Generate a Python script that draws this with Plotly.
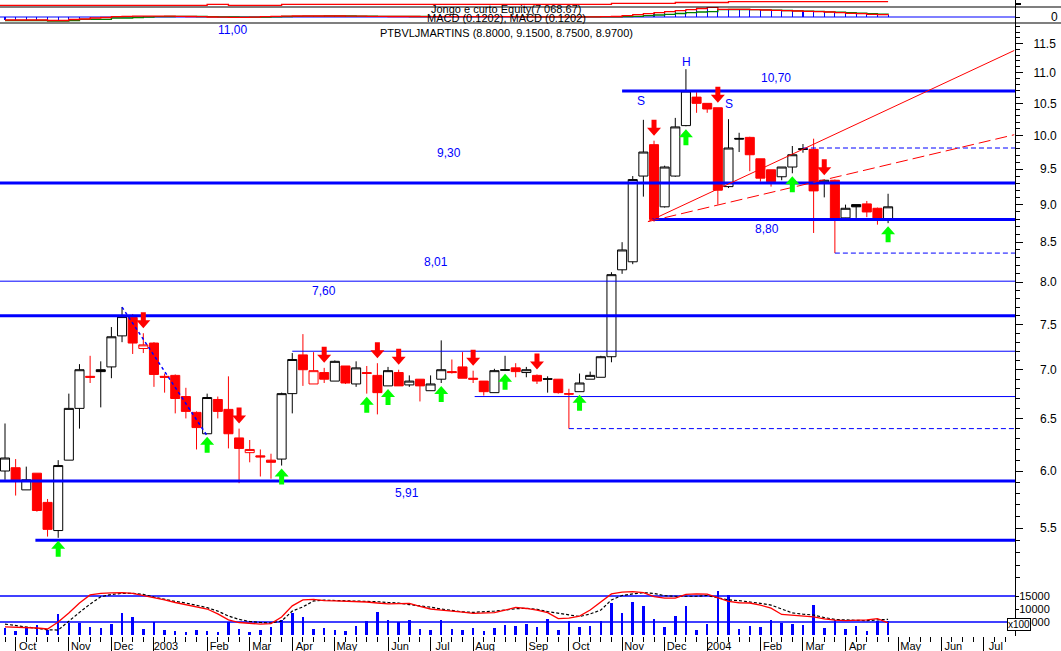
import math
import pandas as pd
import plotly.graph_objects as go

# ---------------------------------------------------------------- data
weeks = pd.date_range("2002-09-27", periods=84, freq="7D")
week_str = [d.strftime("%Y-%m-%d") for d in weeks]

open_ = [6.00, 6.03, 5.83, 5.98, 5.72, 5.48, 6.10, 6.60, 6.93, 7.00,
         7.03, 7.37, 7.58, 7.23, 7.29, 6.93, 6.94, 6.72, 6.56, 6.35,
         6.69, 6.59, 6.31, 6.17, 6.14, 6.10, 6.11, 6.75, 7.16, 6.85,
         6.97, 6.88, 7.04, 6.85, 6.97, 6.94, 6.83, 6.97, 6.84, 6.90,
         6.78, 6.90, 6.98, 7.03, 6.91, 6.88, 6.76, 7.00, 7.02, 6.97,
         6.94, 6.905, 6.90, 6.75, 6.77, 6.90, 6.92, 7.14, 8.15, 8.25,
         9.40, 9.86, 8.97, 9.40, 10.15, 10.60, 10.50, 10.43, 9.25, 9.955,
         9.97, 9.65, 9.49, 9.39, 9.53, 9.80, 9.79, 9.31, 9.34, 8.82,
         9.00, 9.01, 8.95, 8.80]
high = [6.45, 6.11, 6.04, 5.98, 5.75, 6.10, 6.75, 7.06, 7.15, 7.09,
        7.47, 7.70, 7.62, 7.40, 7.30, 6.96, 6.95, 6.81, 6.57, 6.75,
        6.72, 6.93, 6.40, 6.29, 6.20, 6.16, 6.76, 7.18, 7.39, 7.19,
        7.02, 7.10, 7.04, 7.09, 7.04, 7.07, 7.03, 7.00, 6.94, 6.90,
        6.94, 7.32, 7.11, 7.19, 6.99, 6.88, 7.01, 7.15, 7.07, 7.03,
        6.95, 6.93, 6.90, 6.80, 6.96, 6.98, 7.15, 8.12, 8.50, 9.40,
        10.24, 9.92, 9.55, 10.27, 11.06, 10.68, 10.50, 10.43, 10.25, 10.04,
        9.98, 9.65, 9.49, 9.53, 9.84, 9.87, 9.95, 9.34, 9.35, 9.00,
        9.00, 9.05, 8.96, 9.15]
low = [5.92, 5.78, 5.83, 5.64, 5.43, 5.42, 6.10, 6.40, 6.86, 6.61,
       6.91, 7.30, 7.17, 7.18, 6.82, 6.76, 6.55, 6.50, 6.20, 6.35,
       6.50, 6.21, 5.89, 6.08, 5.95, 5.93, 6.05, 6.55, 6.83, 6.85,
       6.86, 6.88, 6.85, 6.82, 6.75, 6.54, 6.83, 6.83, 6.82, 6.67,
       6.78, 6.86, 6.96, 6.91, 6.86, 6.73, 6.76, 6.99, 6.92, 6.92,
       6.85, 6.76, 6.75, 6.40, 6.77, 6.90, 6.92, 7.08, 8.10, 8.22,
       9.11, 8.77, 8.96, 9.39, 10.14, 10.35, 10.35, 9.00, 9.23, 9.75,
       9.47, 9.32, 9.25, 9.34, 9.44, 9.74, 8.62, 9.10, 8.36, 8.81,
       8.82, 8.83, 8.73, 8.75]
close = [6.12, 5.92, 5.92, 5.65, 5.49, 6.05, 6.60, 7.00, 6.92, 6.98,
         7.36, 7.59, 7.29, 7.27, 6.95, 6.92, 6.70, 6.57, 6.41, 6.71,
         6.57, 6.35, 6.21, 6.20, 6.13, 6.08, 6.75, 7.11, 7.00, 6.99,
         6.90, 7.09, 6.86, 7.02, 6.96, 6.76, 6.99, 6.83, 6.88, 6.83,
         6.85, 7.00, 6.97, 6.91, 6.90, 6.77, 6.99, 6.995, 6.98, 7.00,
         6.88, 6.90, 6.76, 6.745, 6.86, 6.94, 7.14, 8.09, 8.40, 9.35,
         9.75, 8.80, 9.53, 10.13, 10.70, 10.50, 10.41, 9.20, 9.81, 9.945,
         9.71, 9.37, 9.32, 9.53, 9.71, 9.79, 9.19, 9.34, 8.81, 8.95,
         8.97, 8.90, 8.82, 8.97]

# weekly volume, in hundreds of shares
volume = [2600, 1500, 2800, 3800, 1900, 8100, 4500, 4800, 3200, 2600,
          4200, 8300, 7000, 2200, 5100, 1900, 1500, 1200, 1900, 1500,
          1200, 5100, 2300, 1000, 1900, 3200, 5800, 8600, 6800, 2200,
          2600, 1900, 1500, 3500, 5400, 8800, 5800, 4900, 5800, 2300,
          1900, 5800, 2200, 1900, 2600, 1500, 2600, 3800, 3500, 4200,
          3200, 6000, 1900, 5400, 3000, 3500, 5400, 12400, 8600, 12700,
          11200, 6000, 3200, 7300, 11200, 1900, 4200, 17000, 15400, 2300,
          3500, 3000, 5800, 4700, 4200, 3800, 11500, 2600, 5800, 2200,
          3500, 1500, 5500, 5500]
vol_fast = [3100, 3000, 2900, 2700, 2300, 5000, 8500, 12300, 15400, 16000,
            16200, 16300, 16000, 15200, 14200, 13500, 12500, 11700, 10800, 10000,
            8100, 5800, 4800, 4400, 4200, 4400, 6900, 11200, 13500, 13700,
            13200, 13100, 13000, 12900, 12700, 12300, 12000, 12100, 12200, 11000,
            10000, 9600, 9300, 8800, 8300, 8500, 8600, 9600, 10600, 10200,
            9600, 8600, 6300, 6500, 7300, 9600, 12700, 15800, 16500, 16700,
            16300, 14800, 14200, 14200, 15600, 15800, 15700, 14200, 12900, 12400,
            12300, 11500, 10300, 7900, 7600, 7400, 7000, 6200, 5700, 5500,
            5700, 5800, 6300, 4700]
vol_slow = [4200, 3700, 3100, 2500, 2000, 1900, 5400, 8700, 11900, 14700,
            15600, 16000, 16000, 15600, 14600, 13700, 12900, 12300, 11500, 10500,
            9200, 7300, 6000, 5200, 4800, 4600, 5400, 9200, 10800, 13100,
            13400, 13300, 13300, 13200, 13000, 12800, 12500, 12300, 11700, 11300,
            10700, 10000, 9400, 8900, 8700, 8900, 9200, 9600, 10100, 10300,
            9900, 9000, 8400, 7600, 7100, 8100, 9600, 13500, 15200, 15800,
            16300, 16000, 15100, 14900, 14800, 14900, 15200, 14400, 13500, 13200,
            12800, 12200, 11500, 10000, 8500, 8000, 7700, 6700, 6000, 5800,
            5700, 5500, 5800, 6000]

# MACD study (panel units)
macd = [-3.0, -3.0, -3.0, -3.0, -3.5, -3.5, -2.5, -2.0, -1.0, -0.5,
        0.3, 0.7, 0.8, 0.8, 0.8, 0.8, 0.7, 0.5, 0.3, 0.0,
        -0.2, -0.3, -0.3, -0.2, 0.3, 0.7, 0.9, 1.0, 1.0, 1.0,
        1.0, 1.0, 0.9, 0.8, 0.7, 0.6, 0.5, 0.5, 0.5, 0.4,
        0.4, 0.4, 0.3, 0.3, 0.3, 0.3, 0.3, 0.3, 0.2, 0.2,
        0.2, 0.2, 0.2, 0.1, 0.1, 0.2, 0.3, 0.5, 1.3, 2.3,
        3.3, 4.3, 5.3, 6.3, 7.3, 8.5, 9.7, 7.7, 7.7, 7.7,
        7.3, 7.0, 6.7, 6.3, 6.0, 5.7, 5.3, 5.0, 4.3, 3.7,
        3.3, 2.7, 2.3, 2.0]
signal = [-3.5, -3.5, -3.5, -3.5, -4.0, -4.0, -3.5, -2.3, -2.3, -2.3,
          -1.0, -1.0, -0.5, 0.0, 0.3, 0.5, 0.6, 0.6, 0.5, 0.4,
          0.2, 0.0, -0.1, -0.2, -0.1, 0.2, 0.5, 0.7, 0.8, 0.9,
          1.0, 1.0, 1.0, 0.9, 0.8, 0.7, 0.6, 0.6, 0.5, 0.5,
          0.4, 0.4, 0.4, 0.3, 0.3, 0.3, 0.3, 0.3, 0.3, 0.2,
          0.2, 0.2, 0.2, 0.2, 0.1, 0.1, 0.2, 0.2, 0.3, 0.7,
          1.3, 2.0, 2.7, 3.5, 4.3, 5.0, 5.3, 7.3, 7.5, 7.5,
          7.3, 7.1, 6.8, 6.5, 6.2, 5.9, 5.6, 5.2, 4.8, 4.3,
          3.8, 3.3, 2.8, 2.4]

# long/short system equity
equity = [6710, 6710, 6710, 6710, 6710, 6710, 6710, 6710, 6710, 6710,
          6710, 6710, 6710, 6710, 6710, 6710, 6710, 6710, 6710, 6810,
          6810, 6710, 6710, 6710, 6710, 6710, 6810, 6810, 6810, 6810,
          6810, 6810, 6810, 6810, 6810, 6810, 6810, 6810, 6810, 6810,
          6810, 6810, 6810, 6810, 6810, 6810, 6810, 6810, 6810, 6810,
          6810, 6810, 6810, 6810, 6810, 6810, 6810, 6910, 6910, 6910,
          6910, 6910, 6910, 6990, 6990, 6990, 6990, 6990, 7068.67, 7068.67,
          7068.67, 7068.67, 7068.67, 7068.67, 7068.67, 7068.67, 7068.67, 7068.67, 7068.67, 7068.67,
          7068.67, 7068.67, 7068.67, 7068.67]

sell_weeks = [13, 22, 30, 35, 37, 44, 50, 61, 67, 77]
buy_weeks = [5, 19, 26, 34, 36, 41, 47, 54, 64, 74, 83]

month_ticks = ["2002-10-04", "2002-11-08", "2002-12-06", "2003-01-03", "2003-02-07",
               "2003-03-07", "2003-04-04", "2003-05-02", "2003-06-06", "2003-07-04",
               "2003-08-01", "2003-09-05", "2003-10-03", "2003-11-07", "2003-12-05",
               "2004-01-02", "2004-02-06", "2004-03-05", "2004-04-02", "2004-05-07",
               "2004-06-04", "2004-07-02"]
month_labels = ["Oct", "Nov", "Dec", "2003", "Feb", "Mar", "Apr", "May", "Jun", "Jul",
                "Aug", "Sep", "Oct", "Nov", "Dec", "2004", "Feb", "Mar", "Apr", "May",
                "Jun", "Jul"]

price_ticks = [5.5, 6.0, 6.5, 7.0, 7.5, 8.0, 8.5, 9.0, 9.5, 10.0, 10.5, 11.0, 11.5]

# support / resistance levels: (price, first date drawn)
thick_levels = [10.70, 9.30, 8.80, 7.60, 5.91, 5.40]
thick_from = ["2003-11-07", None, "2003-11-27", None, None, "2002-10-17"]
thin_levels = [8.01, 7.20, 6.72]
thin_from = [None, "2003-04-04", "2003-08-02"]
stop_levels = [9.81, 8.36, 6.40]
stop_from = ["2004-03-05", "2004-03-26", "2003-10-03"]

# trend lines: (date, price) pairs
trend_solid = (["2003-11-24", "2004-07-22"], [8.77, 11.38])
trend_dashed = (["2003-11-24", "2004-07-22"], [8.77, 10.01])
trend_down = (["2002-12-13", "2003-02-07"], [7.70, 6.33])

# ---------------------------------------------------------------- geometry
W, H = 1061, 651
MR, MB = 46, 15
PW, PH = W - MR, H - MB
FONT = "Liberation Sans, Arial, sans-serif"
BLUE, RED, GREEN = "#0000ff", "#ff0000", "#00ff00"


def fx(px):
    return px / PW


def fy(py):
    return (PH - py) / PH


X_RANGE = ["2002-09-23 17:00", "2004-07-22 12:00"]
FAR_LEFT, FAR_RIGHT = "2002-08-01", "2004-09-30"
DAY_MS = 86400000

fig = go.Figure()

# ---------------------------------------------------------------- candles
groups = {}
for i in range(len(close)):
    prev = close[i - 1] if i else close[i]
    red = close[i] < prev
    hollow = close[i] > open_[i]
    groups.setdefault((red, hollow), []).append(i)

for (red, hollow), idx in groups.items():
    col = RED if red else "#000000"
    fill = "#ffffff" if hollow else col
    style = dict(line=dict(color=col, width=1), fillcolor=fill)
    fig.add_trace(go.Candlestick(
        x=[week_str[i] for i in idx],
        open=[open_[i] for i in idx], high=[high[i] for i in idx],
        low=[low[i] for i in idx], close=[close[i] for i in idx],
        increasing=style, decreasing=style, whiskerwidth=0,
        hoverinfo="skip", showlegend=False, xaxis="x", yaxis="y"))


def hline(level, start, width, dash=None, color=BLUE, axis="y"):
    fig.add_trace(go.Scatter(
        x=[start or FAR_LEFT, FAR_RIGHT], y=[level, level], mode="lines",
        line=dict(color=color, width=width, dash=dash),
        hoverinfo="skip", showlegend=False, xaxis="x", yaxis=axis))


for lv, st in zip(thin_levels, thin_from):
    hline(lv, st, 1)
for lv, st in zip(stop_levels, stop_from):
    hline(lv, st, 1, dash="5px,3px")
for lv, st in zip(thick_levels, thick_from):
    hline(lv, st, 3)

for (xs, ys), dash, col in [(trend_solid, None, RED), (trend_dashed, "12px,5px", RED),
                            (trend_down, "dot", BLUE)]:
    fig.add_trace(go.Scatter(x=xs, y=ys, mode="lines",
                             line=dict(color=col, width=1 if col == RED else 1.5, dash=dash),
                             hoverinfo="skip", showlegend=False, xaxis="x", yaxis="y"))

# ---------------------------------------------------------------- volume panel
fig.add_trace(go.Bar(x=week_str, y=volume, width=1.65 * DAY_MS, marker=dict(color=BLUE, line=dict(width=0)),
                     hoverinfo="skip", showlegend=False, xaxis="x", yaxis="y2"))
hline(15000, None, 1.5, axis="y2")
hline(5000, None, 1.5, axis="y2")
fig.add_trace(go.Scatter(x=week_str, y=vol_slow, mode="lines",
                         line=dict(color="#000000", width=1.2, dash="3px,2px"),
                         hoverinfo="skip", showlegend=False, xaxis="x", yaxis="y2"))
fig.add_trace(go.Scatter(x=week_str, y=vol_fast, mode="lines",
                         line=dict(color=RED, width=1.3),
                         hoverinfo="skip", showlegend=False, xaxis="x", yaxis="y2"))

# ---------------------------------------------------------------- MACD panel
fig.add_trace(go.Bar(x=week_str, y=macd, width=0.7 * DAY_MS, marker=dict(color=BLUE, line=dict(width=0)),
                     hoverinfo="skip", showlegend=False, xaxis="x", yaxis="y3"))
hline(0, None, 1.2, axis="y3")
fig.add_trace(go.Scatter(x=week_str, y=signal, mode="lines", line=dict(color="#008000", width=1.3, shape="hv"),
                         hoverinfo="skip", showlegend=False, xaxis="x", yaxis="y3"))
fig.add_trace(go.Scatter(x=week_str, y=macd, mode="lines", line=dict(color=RED, width=1.3, shape="hv"),
                         hoverinfo="skip", showlegend=False, xaxis="x", yaxis="y3"))

# ---------------------------------------------------------------- equity strip
fig.add_trace(go.Scatter(x=[FAR_LEFT] + week_str, y=[equity[0]] + equity, mode="lines",
                         line=dict(color=RED, width=1.3, shape="hv"),
                         hoverinfo="skip", showlegend=False, xaxis="x", yaxis="y4"))

# ---------------------------------------------------------------- signal arrows
DOWN_ARROW = "M0,5 L7,13 L2.5,13 L2.5,21 L-2.5,21 L-2.5,13 L-7,13 Z"
UP_ARROW = "M0,-3 L7,-11 L2.5,-11 L2.5,-19 L-2.5,-19 L-2.5,-11 L-7,-11 Z"
shapes = []
for i in sell_weeks:
    shapes.append(dict(type="path", xref="x", yref="y", xsizemode="pixel", ysizemode="pixel",
                       xanchor=week_str[i], yanchor=high[i], path=DOWN_ARROW,
                       fillcolor=RED, line=dict(width=0)))
for i in buy_weeks:
    shapes.append(dict(type="path", xref="x", yref="y", xsizemode="pixel", ysizemode="pixel",
                       xanchor=week_str[i], yanchor=low[i], path=UP_ARROW,
                       fillcolor=GREEN, line=dict(width=0)))
for py in (7, 23):
    shapes.append(dict(type="line", xref="paper", yref="paper", x0=0, x1=W / PW, y0=fy(py), y1=fy(py),
                       line=dict(color="#000000", width=1.2)))

# ---------------------------------------------------------------- text
def level_text(v):
    return f"{v:.2f}".replace(".", ",")


def note(text, px, py, color="#000000", size=12, **extra):
    return dict(text=text, x=fx(px), y=fy(py), xref="paper", yref="paper",
                xanchor="center", yanchor="middle", showarrow=False,
                font=dict(color=color, size=size, family=FONT), **extra)


annotations = []
labels = [(11.00, 232, 30), (10.70, 776, 78), (9.30, 449, 153), (8.80, 767, 229),
          (8.01, 436, 262), (7.60, 324, 291), (5.91, 407, 493)]
for v, px, py in labels:
    annotations.append(note(level_text(v), px, py, color=BLUE))
for t, px, py in [("S", 641, 101), ("H", 686, 62), ("S", 729, 104)]:
    annotations.append(note(t, px, py, color=BLUE))

title = "PTBVLJMARTINS ({:.4f}, {:.4f}, {:.4f}, {:.4f})".format(open_[-1], high[-1], low[-1], close[-1])
eq_txt = "Jongo e curto Equity({:,.2f})".format(equity[-1]).replace(",", " ")
annotations.append(note(title, 506, 33, size=11))
annotations.append(note(eq_txt, 506, 9, size=11))
annotations.append(note("MACD (0.1202), MACD (0.1202)", 506, 18, size=11))
annotations.append(note("x100", 1019, 624, size=10, bgcolor="#ffffff", bordercolor="#000000",
                        borderwidth=1, borderpad=0))
annotations.append(note("0", 1054, 17, size=12))

# ---------------------------------------------------------------- axes
minor_price = [round(5.0 + 0.1 * k, 1) for k in range(1, 70)]
minor_price = [v for v in minor_price if v not in price_ticks]

axis_common = dict(side="right", showgrid=False, zeroline=False, showline=True,
                   linecolor="#000000", linewidth=1, ticks="outside", tickcolor="#000000",
                   anchor="x", fixedrange=True)

fig.update_layout(
    width=W, height=H,
    margin=dict(l=0, r=MR, t=0, b=MB),
    paper_bgcolor="#ffffff", plot_bgcolor="#ffffff",
    font=dict(family=FONT, color="#000000"),
    showlegend=False, boxgap=0.15, boxgroupgap=0, bargap=0,
    shapes=shapes, annotations=annotations,
    xaxis=dict(type="date", range=X_RANGE, anchor="y2", showgrid=False, zeroline=False,
               showline=False, ticks="outside", ticklen=15, tickcolor="#000000",
               tickmode="array", tickvals=month_ticks, ticktext=month_labels,
               ticklabelshift=12, ticklabelstandoff=-15,
               tickfont=dict(size=11, family=FONT, color="#000000"),
               minor=dict(dtick=7 * DAY_MS, tick0="2002-09-27", ticks="outside", ticklen=5,
                          tickcolor="#000000"),
               rangeslider=dict(visible=False), fixedrange=True),
    yaxis=dict(domain=[fy(590), fy(23)], type="log",
               range=[math.log10(5.006), math.log10(11.866)],
               tickmode="array", tickvals=price_ticks,
               ticktext=[f"{v:.1f}".rjust(4, "\u2007") for v in price_ticks],
               ticklen=7, ticklabelstandoff=8,
               tickfont=dict(size=12, family=FONT, color="#000000"),
               minor=dict(tickmode="array", tickvals=minor_price, ticks="outside", ticklen=4,
                          tickcolor="#000000"),
               **axis_common),
    yaxis2=dict(domain=[0, fy(590)], range=[-385, 17307], tickmode="array",
                tickvals=[5000, 10000, 15000], ticktext=["\u20075000", "10000", "15000"],
                ticklen=3, ticklabelstandoff=-2,
                tickfont=dict(size=11, family=FONT, color="#000000"), **axis_common),
    yaxis3=dict(domain=[fy(23), fy(7)], range=[-6, 10], tickmode="array", tickvals=[0],
                ticklen=4, showticklabels=False, **axis_common),
    yaxis4=dict(domain=[fy(7), 1], range=[6538.67, 7238.67], tickmode="array", tickvals=[6840],
                ticklen=5, tickwidth=2, showticklabels=False, **axis_common),
)

fig.write_html("out.html", config=dict(displayModeBar=False, staticPlot=True))
